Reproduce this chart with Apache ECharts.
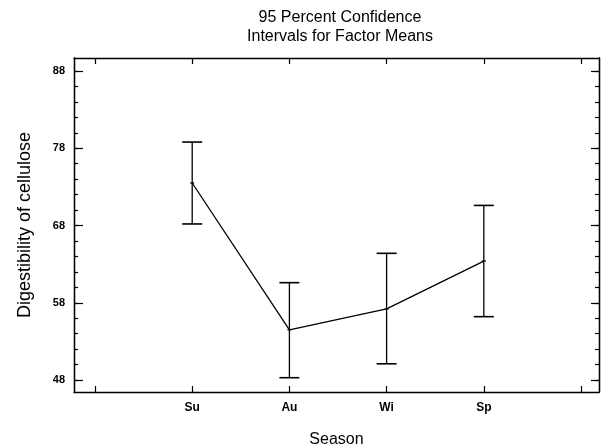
<!DOCTYPE html>
<html>
<head>
<meta charset="utf-8">
<script src="https://cdn.jsdelivr.net/npm/echarts@6/dist/echarts.min.js"></script>
<style>html,body{margin:0;padding:0;background:#fff}#c{width:603px;height:448px}</style>
</head>
<body>
<div id="c"></div>
<script>
const categories = ['Su', 'Au', 'Wi', 'Sp'];
const means = [73.5, 54.5, 57.2, 63.4];
const lower = [68.2, 48.3, 50.1, 56.2];
const upper = [78.8, 60.6, 64.4, 70.6];
const yMajorTicks = [48, 58, 68, 78, 88];
const yMinorTicks = [48, 50, 52, 54, 56, 58, 60, 62, 64, 66, 68, 70, 72, 74, 76, 78, 80, 82, 84, 86, 88];
const xTickPositions = [0, 1, 2, 3, 4, 5];
const xLabelPositions = [1, 2, 3, 4];

const chart = echarts.init(document.getElementById('c'));
const font = 'Liberation Sans, Arial, sans-serif';
const X_MIN = -0.216, X_MAX = 5.185, Y_MIN = 46.45, Y_MAX = 89.68;

const lineData = means.map((m, i) => [i + 1, m]);
const barData = means.map((m, i) => [i + 1, lower[i], upper[i], m]);

function yAxisBase(pos, ticks, len) {
  return {
    type: 'value', position: pos, min: Y_MIN, max: Y_MAX,
    axisLine: { show: true, onZero: false, lineStyle: { color: '#000', width: 1.3 } },
    axisTick: { show: true, inside: true, length: len, customValues: ticks, lineStyle: { color: '#000', width: 1.2 } },
    axisLabel: { show: false },
    splitLine: { show: false }
  };
}

const option = {
  backgroundColor: '#fff',
  animation: false,
  title: {
    text: '95 Percent Confidence\nIntervals for Factor Means',
    left: 335, top: 3, textAlign: 'center',
    textStyle: { fontFamily: font, fontSize: 16, fontWeight: 'normal', color: '#000', lineHeight: 19 }
  },
  grid: { left: 74, right: 4, top: 58, bottom: 56, outerBoundsMode: 'none', containLabel: false },
  xAxis: [
    {
      type: 'value', position: 'bottom', min: X_MIN, max: X_MAX,
      name: 'Season', nameLocation: 'middle', nameGap: 40,
      nameTextStyle: { fontFamily: font, fontSize: 16, color: '#000' },
      axisLine: { show: true, onZero: false, lineStyle: { color: '#000', width: 1.3 } },
      axisTick: { show: true, inside: true, length: 6, customValues: xTickPositions, lineStyle: { color: '#000', width: 1.2 } },
      axisLabel: {
        customValues: xLabelPositions, margin: 10,
        fontFamily: font, fontSize: 12, fontWeight: 'bold', color: '#000',
        formatter: v => categories[Math.round(v) - 1] || ''
      },
      splitLine: { show: false }
    },
    {
      type: 'value', position: 'top', min: X_MIN, max: X_MAX,
      axisLine: { show: true, onZero: false, lineStyle: { color: '#000', width: 1.3 } },
      axisTick: { show: true, inside: true, length: 6, customValues: xTickPositions, lineStyle: { color: '#000', width: 1.2 } },
      axisLabel: { show: false },
      splitLine: { show: false }
    }
  ],
  yAxis: [
    Object.assign(yAxisBase('left', yMajorTicks, 9), {
      name: 'Digestibility of cellulose', nameLocation: 'middle', nameGap: 40,
      nameTextStyle: { fontFamily: font, fontSize: 18, color: '#000' },
      axisLabel: {
        show: true, customValues: yMajorTicks, margin: 9,
        fontFamily: font, fontSize: 11, fontWeight: 'bold', color: '#000'
      }
    }),
    yAxisBase('left', yMinorTicks, 4),
    yAxisBase('right', yMajorTicks, 8),
    yAxisBase('right', yMinorTicks, 4)
  ],
  series: [
    {
      type: 'line', xAxisIndex: 0, yAxisIndex: 0, data: lineData,
      symbol: 'none', lineStyle: { color: '#000', width: 1.3 }, z: 3
    },
    {
      type: 'custom', xAxisIndex: 0, yAxisIndex: 0, data: barData,
      renderItem: function (params, api) {
        const x = api.value(0);
        const lo = api.coord([x, api.value(1)]);
        const hi = api.coord([x, api.value(2)]);
        const mid = api.coord([x, api.value(3)]);
        const cap = 10;
        const st = { stroke: '#000', lineWidth: 1.3 };
        return {
          type: 'group',
          children: [
            { type: 'line', shape: { x1: lo[0], y1: lo[1], x2: hi[0], y2: hi[1] }, style: st },
            { type: 'line', shape: { x1: lo[0] - cap, y1: lo[1], x2: lo[0] + cap, y2: lo[1] }, style: { stroke: '#000', lineWidth: 1.6 } },
            { type: 'line', shape: { x1: hi[0] - cap, y1: hi[1], x2: hi[0] + cap, y2: hi[1] }, style: { stroke: '#000', lineWidth: 1.6 } },
            { type: 'line', shape: { x1: mid[0] - 2, y1: mid[1], x2: mid[0] + 2, y2: mid[1] }, style: st }
          ]
        };
      },
      z: 4
    }
  ]
};
chart.setOption(option);
</script>
</body>
</html>
